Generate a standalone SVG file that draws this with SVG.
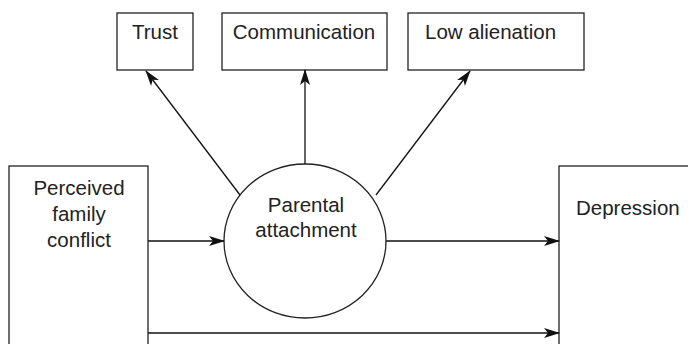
<svg xmlns="http://www.w3.org/2000/svg" width="688" height="344" viewBox="0 0 688 344">
  <style>
    .box { fill: #ffffff; stroke: #222; stroke-width: 1.3; }
    .lbl { font-family: "Liberation Sans", Arial, sans-serif; font-size: 20.5px; fill: #222; }
    .mid { text-anchor: middle; }
    .edge { stroke: #111; stroke-width: 1.3; fill: none; marker-end: url(#arrow); }
  </style>
  <defs>
    <marker id="arrow" viewBox="0 0 16 10" refX="15" refY="5" markerWidth="16" markerHeight="10" markerUnits="userSpaceOnUse" orient="auto">
      <path d="M0,0 L16,5 L0,10 L4,5 Z" fill="#111"/>
    </marker>
  </defs>
  <rect width="688" height="344" fill="#ffffff"/>

  <g id="trust">
    <rect class="box" x="117" y="13" width="76" height="57"/>
    <text class="lbl mid" x="155" y="39">Trust</text>
  </g>
  <g id="communication">
    <rect class="box" x="222" y="13" width="165" height="57"/>
    <text class="lbl mid" x="304" y="39">Communication</text>
  </g>
  <g id="low-alienation">
    <rect class="box" x="408" y="13" width="176" height="57"/>
    <text class="lbl" x="425" y="39">Low alienation</text>
  </g>
  <g id="family-conflict">
    <rect class="box" x="9" y="166" width="139" height="200"/>
    <text class="lbl mid" x="79" y="195">Perceived</text>
    <text class="lbl mid" x="79" y="221">family</text>
    <text class="lbl mid" x="79" y="247">conflict</text>
  </g>
  <g id="parental-attachment">
    <ellipse class="box" cx="305" cy="241" rx="81" ry="77"/>
    <text class="lbl mid" x="306" y="212">Parental</text>
    <text class="lbl mid" x="306" y="237">attachment</text>
  </g>
  <g id="depression">
    <rect class="box" x="559" y="166" width="200" height="200"/>
    <text class="lbl" x="576" y="215">Depression</text>
  </g>

  <g id="connectors">
    <line class="edge" x1="240" y1="195" x2="146" y2="71"/>
    <line class="edge" x1="305" y1="164" x2="305" y2="70"/>
    <line class="edge" x1="376" y1="195" x2="470" y2="71"/>
    <line class="edge" x1="148" y1="241" x2="224" y2="241"/>
    <line class="edge" x1="386" y1="241" x2="559" y2="241"/>
    <line class="edge" x1="148" y1="333" x2="559" y2="333"/>
  </g>
</svg>
